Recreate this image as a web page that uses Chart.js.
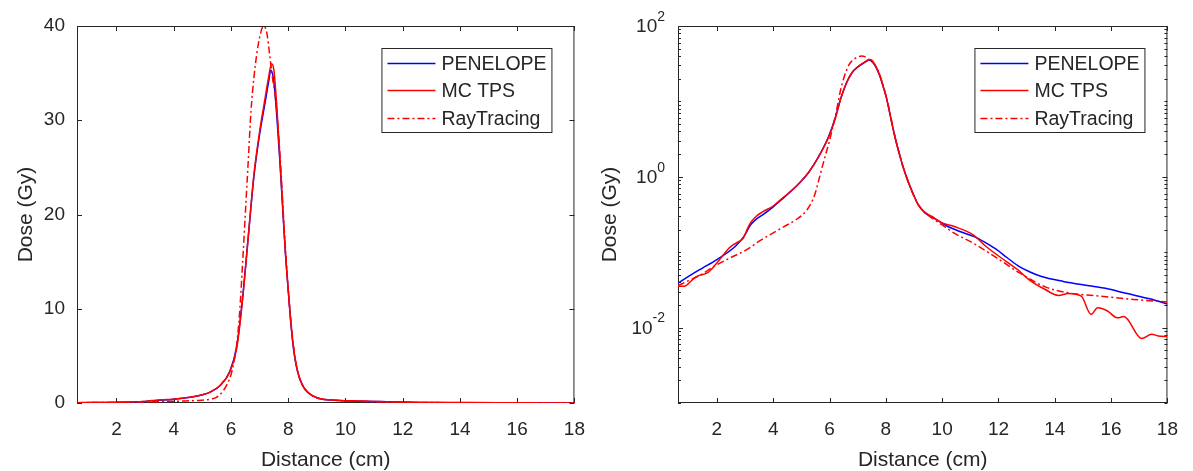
<!DOCTYPE html>
<html>
<head>
<meta charset="utf-8">
<script src="https://cdn.jsdelivr.net/npm/chart.js@4.4.0/dist/chart.umd.min.js"></script>
<style>
  html, body { margin: 0; padding: 0; background: #fff; }
  .panel { position: absolute; top: 0; height: 471px; }
  #leftPanel { left: 0; width: 600px; }
  #rightPanel { left: 600px; width: 593px; }
</style>
</head>
<body>
<div class="panel" id="leftPanel"><canvas id="linChart"></canvas></div>
<div class="panel" id="rightPanel"><canvas id="logChart"></canvas></div>
<script>
// Dose profiles (distance in cm, dose in Gy)
const penX = [0.62, 1.08, 1.5, 2.0, 2.65, 2.95, 3.2, 3.4, 3.64, 4.0, 4.3, 4.68, 5.0, 5.27, 5.61, 5.96,
    6.2, 6.4, 6.6, 6.8, 7.0, 7.2, 7.3, 7.4, 7.5, 7.6, 7.7, 7.8, 7.9, 8.0, 8.1, 8.2, 8.3, 8.4, 8.5, 8.6,
    8.8, 9.0, 9.16, 9.4, 9.62, 10.2, 10.6, 11.25, 11.6, 11.94, 12.3, 12.7, 13.1, 13.5, 14.3, 15.3, 16.0,
    16.45, 17.37, 18.0];
const penDose = [0.039, 0.050, 0.062, 0.080, 0.119, 0.16, 0.23, 0.275, 0.315, 0.40, 0.50, 0.668, 0.88,
    1.16, 1.84, 3.37, 6.0, 11.0, 17.5, 24.0, 28.5, 32.0, 33.8, 35.3, 34.0, 30.5, 26.0, 21.0, 16.0, 12.0,
    8.2, 5.4, 3.7, 2.6, 1.9, 1.4, 0.85, 0.56, 0.42, 0.33, 0.297, 0.219, 0.19, 0.154, 0.13, 0.108, 0.085,
    0.066, 0.055, 0.048, 0.041, 0.0355, 0.032, 0.0289, 0.0241, 0.0205];

const mcX = [0.62, 0.85, 1.1, 1.31, 1.66, 1.9, 2.24, 2.45, 2.59, 2.8, 2.94, 3.1, 3.23, 3.4, 3.64, 4.0,
    4.3, 4.68, 5.0, 5.27, 5.61, 5.96, 6.2, 6.4, 6.6, 6.8, 7.0, 7.2, 7.3, 7.42, 7.5, 7.6, 7.7, 7.8, 7.9,
    8.0, 8.1, 8.2, 8.3, 8.4, 8.5, 8.6, 8.8, 9.0, 9.16, 9.4, 9.62, 10.0, 10.43, 11.1, 11.56, 12.27, 12.7,
    13.08, 13.66, 14.13, 14.48, 14.94, 15.29, 15.52, 15.87, 16.22, 16.45, 17.09, 17.44, 17.67, 18.0];
const mcDose = [0.0354, 0.0354, 0.042, 0.048, 0.053, 0.065, 0.093, 0.115, 0.126, 0.14, 0.154, 0.21,
    0.255, 0.30, 0.345, 0.41, 0.51, 0.67, 0.88, 1.16, 1.84, 3.3, 5.8, 10.8, 17.5, 24.2, 28.8, 32.5, 34.3,
    36.0, 35.3, 31.5, 26.5, 21.2, 16.0, 12.0, 8.3, 5.5, 3.7, 2.6, 1.9, 1.4, 0.85, 0.56, 0.42, 0.335, 0.30,
    0.245, 0.219, 0.170, 0.119, 0.0756, 0.058, 0.0434, 0.032, 0.0267, 0.0283, 0.0261, 0.0150, 0.0183,
    0.0166, 0.0135, 0.0140, 0.00716, 0.00816, 0.00776, 0.0076];

const rtX = [0.62, 1.0, 1.5, 1.9, 2.5, 3.06, 3.5, 3.99, 4.4, 4.8, 5.15, 5.35, 5.49, 5.6, 5.73, 5.85,
    6.0, 6.1, 6.2, 6.3, 6.4, 6.5, 6.6, 6.7, 6.8, 6.9, 7.0, 7.14, 7.25, 7.35, 7.45, 7.55, 7.65, 7.75, 7.85,
    7.95, 8.05, 8.15, 8.25, 8.35, 8.5, 8.6, 8.8, 9.0, 9.2, 9.5, 10.0, 10.43, 11.1, 11.94, 12.75, 13.66,
    14.48, 15.64, 16.8, 18.0];
const rtDose = [0.036, 0.042, 0.052, 0.065, 0.085, 0.108, 0.14, 0.179, 0.22, 0.268, 0.345, 0.45, 0.60,
    0.85, 1.3, 1.9, 3.0, 4.3, 6.2, 9.5, 14.5, 20.0, 25.5, 31.0, 34.5, 37.0, 38.8, 40.0, 39.3, 37.0, 34.5,
    32.5, 29.0, 24.5, 19.0, 14.2, 10.2, 7.0, 4.6, 3.1, 1.9, 1.4, 0.84, 0.55, 0.40, 0.31, 0.23, 0.179,
    0.132, 0.0838, 0.0531, 0.0347, 0.0289, 0.0261, 0.0236, 0.0218];

const seriesNames = ['PENELOPE', 'MC TPS', 'RayTracing'];
const xTickValues = [2, 4, 6, 8, 10, 12, 14, 16, 18];
const linTickValues = [0, 10, 20, 30, 40];
const logMajorValues = [1e-2, 1e0, 1e2];
const logMajorExp = ['-2', '0', '2'];

const AXIS_COLOR = '#262626';
const FONT = '"Liberation Sans", Arial, Helvetica, sans-serif';
const SERIES_STYLE = [
    { color: '#0000ff', dash: [] },
    { color: '#ff0000', dash: [] },
    { color: '#ff0000', dash: [7, 3, 2, 3] },
];

function toPoints(xs, ys) {
    return xs.map(function(x, i) { return { x: x, y: ys[i] }; });
}

function buildDatasets() {
    const sets = [toPoints(penX, penDose), toPoints(mcX, mcDose), toPoints(rtX, rtDose)];
    return sets.map(function(pts, i) {
        return {
            label: seriesNames[i],
            data: pts,
            borderColor: SERIES_STYLE[i].color,
            borderDash: SERIES_STYLE[i].dash,
            borderWidth: 1.5,
            pointRadius: 0,
            fill: false,
            cubicInterpolationMode: 'monotone',
            order: 3 - i,   // later series drawn on top, like MATLAB
        };
    });
}

function line(ctx, x0, y0, x1, y1) {
    ctx.beginPath();
    ctx.moveTo(x0, y0);
    ctx.lineTo(x1, y1);
    ctx.stroke();
}

// MATLAB-style box axes: frame, inward ticks on all sides, legend, titles
const matlabAxes = {
    id: 'matlabAxes',
    beforeDatasetsDraw(chart, args, opts) {
        const { ctx, chartArea: a, scales } = chart;
        ctx.save();
        ctx.strokeStyle = AXIS_COLOR;
        ctx.lineWidth = 1;
        ctx.strokeRect(a.left + 0.5, a.top + 0.5, a.right - a.left - 1, a.bottom - a.top - 1);

        xTickValues.forEach(function(v) {
            const px = Math.round(scales.x.getPixelForValue(v)) + 0.5;
            line(ctx, px, a.bottom, px, a.bottom - 5);
            line(ctx, px, a.top, px, a.top + 5);
        });

        function yTick(v, len) {
            const py = Math.round(scales.y.getPixelForValue(v)) + 0.5;
            line(ctx, a.left, py, a.left + len, py);
            line(ctx, a.right, py, a.right - len, py);
        }
        if (opts.log) {
            for (let k = -3; k <= 1; k++) {
                for (let m = 1; m <= 9; m++) {
                    const v = m * Math.pow(10, k);
                    const major = logMajorValues.some(function(t) { return Math.abs(t - v) < 1e-12; });
                    yTick(v, major ? 5 : 3);
                }
            }
            yTick(1e2, 5);
        } else {
            linTickValues.forEach(function(v) { yTick(v, 5); });
        }
        ctx.restore();
    },
    afterDraw(chart, args, opts) {
        const { ctx, chartArea: a, scales } = chart;
        ctx.save();
        ctx.fillStyle = AXIS_COLOR;

        // log-axis labels with superscript exponents
        if (opts.log) {
            ctx.textBaseline = 'middle';
            ctx.textAlign = 'left';
            logMajorValues.forEach(function(v, i) {
                const py = scales.y.getPixelForValue(v);
                ctx.font = '14px ' + FONT;
                const we = ctx.measureText(logMajorExp[i]).width;
                ctx.font = '19px ' + FONT;
                const wb = ctx.measureText('10').width;
                const right = a.left - 13;
                ctx.fillText('10', right - we - wb, py + 1);
                ctx.font = '14px ' + FONT;
                ctx.fillText(logMajorExp[i], right - we, py - 9);
            });
        }

        // axis titles
        ctx.font = '21px ' + FONT;
        ctx.textAlign = 'center';
        ctx.textBaseline = 'middle';
        ctx.fillText('Distance (cm)', (a.left + a.right) / 2, 460);
        ctx.save();
        ctx.translate(opts.yTitleX, (a.top + a.bottom) / 2);
        ctx.rotate(-Math.PI / 2);
        ctx.fillText('Dose (Gy)', 0, 0);
        ctx.restore();

        // legend box
        const bw = 170, bh = 84;
        const bx = a.right - 23 - bw, by = a.top + 22;
        ctx.fillStyle = '#ffffff';
        ctx.fillRect(bx, by, bw, bh);
        ctx.strokeStyle = AXIS_COLOR;
        ctx.lineWidth = 1;
        ctx.strokeRect(bx + 0.5, by + 0.5, bw, bh);
        const rows = [15, 42, 70];
        ctx.font = '19.5px ' + FONT;
        ctx.textAlign = 'left';
        ctx.textBaseline = 'middle';
        seriesNames.forEach(function(name, i) {
            const ry = by + rows[i] + 0.5;
            ctx.strokeStyle = SERIES_STYLE[i].color;
            ctx.lineWidth = 1.5;
            ctx.setLineDash(SERIES_STYLE[i].dash);
            line(ctx, bx + 6, ry, bx + 54, ry);
            ctx.setLineDash([]);
            ctx.fillStyle = AXIS_COLOR;
            ctx.fillText(name, bx + 60, ry + 1);
        });
        ctx.restore();
    },
};

function xAxis() {
    return {
        type: 'linear',
        min: 0.62,
        max: 18,
        grid: { display: false, drawTicks: false },
        border: { display: false },
        afterBuildTicks: function(scale) {
            scale.ticks = xTickValues.map(function(v) { return { value: v }; });
        },
        afterFit: function(scale) { scale.height = 68; },
        ticks: {
            autoSkip: false,
            maxRotation: 0,
            padding: 15,
            color: AXIS_COLOR,
            font: { family: FONT, size: 19 },
            callback: function(v) { return String(v); },
        },
    };
}

function makeChart(id, isLog) {
    const yScale = isLog ? {
        type: 'logarithmic',
        min: 1e-3,
        max: 1e2,
        grid: { display: false, drawTicks: false },
        border: { display: false },
        ticks: { display: false },
        afterFit: function(scale) { scale.width = 78; },
    } : {
        type: 'linear',
        min: 0,
        max: 40,
        grid: { display: false, drawTicks: false },
        border: { display: false },
        afterBuildTicks: function(scale) {
            scale.ticks = linTickValues.map(function(v) { return { value: v }; });
        },
        afterFit: function(scale) { scale.width = 77; },
        ticks: {
            padding: 12,
            color: AXIS_COLOR,
            font: { family: FONT, size: 19 },
        },
    };

    return new Chart(document.getElementById(id), {
        type: 'line',
        data: { datasets: buildDatasets() },
        options: {
            responsive: true,
            maintainAspectRatio: false,
            animation: false,
            devicePixelRatio: 1,
            layout: { padding: { top: 26, right: isLog ? 16 : 22, left: 0, bottom: 0 } },
            plugins: {
                legend: { display: false },
                tooltip: { enabled: false },
                matlabAxes: { log: isLog, yTitleX: isLog ? 10 : 26 },
            },
            scales: { x: xAxis(), y: yScale },
        },
        plugins: [matlabAxes],
    });
}

makeChart('linChart', false);
makeChart('logChart', true);
</script>
</body>
</html>
